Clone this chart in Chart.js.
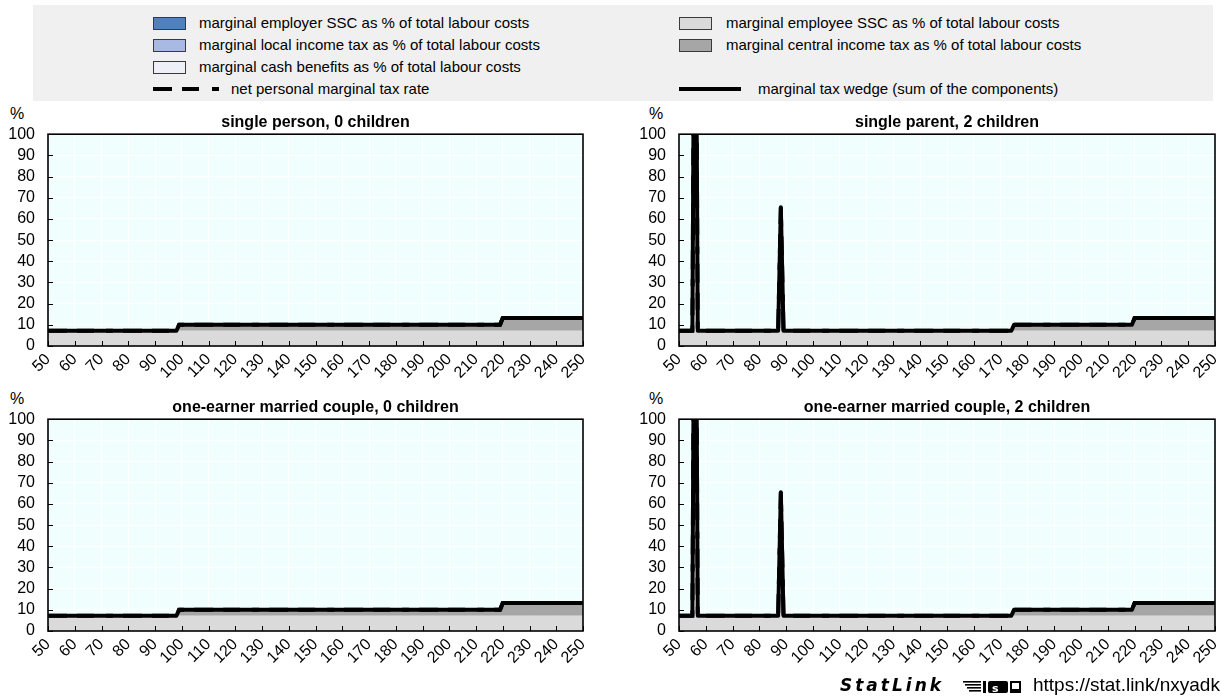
<!DOCTYPE html>
<html>
<head>
<meta charset="utf-8">
<script src="https://cdn.jsdelivr.net/npm/chart.js@4/dist/chart.umd.min.js"></script>
<style>
  body { margin:0; width:1221px; height:698px; overflow:hidden; background:#fff;
         font-family:"Liberation Sans", Arial, sans-serif; position:relative; color:#000; }
  #legendBox { position:absolute; left:33px; top:5px; width:1180px; height:96px; background:#f0f0f0; }
  .lab { position:absolute; font-size:15px; line-height:16px; white-space:nowrap; }
  .sw { position:absolute; width:33px; height:13px; border:1px solid #3a3a3a; box-sizing:border-box; }
  .bar { position:absolute; height:4px; background:#000; }
  .pct { position:absolute; font-size:16px; line-height:18px; }
  canvas { position:absolute; }
  #statlink { position:absolute; left:840px; top:674px; font-family:"DejaVu Sans", sans-serif;
              font-style:italic; font-weight:bold; font-size:17px; letter-spacing:3px; line-height:22px; }
  #url { position:absolute; left:1033px; top:674px; font-size:19px; line-height:22px; white-space:nowrap; }
  #slicon { position:absolute; left:963px; top:680px; }
</style>
</head>
<body>
<div id="legendBox"></div>

<!-- legend, left column -->
<div class="sw" style="left:153px;top:17px;background:#4f81bd"></div>
<div class="lab" style="left:199px;top:15px">marginal employer SSC as % of total labour costs</div>
<div class="sw" style="left:153px;top:39px;background:#a8bae4"></div>
<div class="lab" style="left:199px;top:37px">marginal local income tax as % of total labour costs</div>
<div class="sw" style="left:153px;top:61px;background:#eef0f8"></div>
<div class="lab" style="left:199px;top:59px">marginal cash benefits as % of total labour costs</div>
<div class="bar" style="left:153px;top:87px;width:19px"></div>
<div class="bar" style="left:182px;top:87px;width:17px"></div>
<div class="bar" style="left:212px;top:87px;width:7px"></div>
<div class="lab" style="left:231px;top:81px">net personal marginal tax rate</div>

<!-- legend, right column -->
<div class="sw" style="left:679px;top:17px;background:#dadada"></div>
<div class="lab" style="left:726px;top:15px">marginal employee SSC as % of total labour costs</div>
<div class="sw" style="left:679px;top:39px;background:#a6a6a6"></div>
<div class="lab" style="left:726px;top:37px">marginal central income tax as % of total labour costs</div>
<div class="bar" style="left:679px;top:87px;width:62px"></div>
<div class="lab" style="left:758px;top:81px">marginal tax wedge (sum of the components)</div>

<div class="pct" style="left:10px;top:105px">%</div>
<div class="pct" style="left:649px;top:105px">%</div>
<div class="pct" style="left:10px;top:390px">%</div>
<div class="pct" style="left:649px;top:390px">%</div>

<canvas id="cTL" width="600" height="285" style="left:0;top:105px"></canvas>
<canvas id="cTR" width="590" height="285" style="left:631px;top:105px"></canvas>
<canvas id="cBL" width="600" height="285" style="left:0;top:390px"></canvas>
<canvas id="cBR" width="590" height="285" style="left:631px;top:390px"></canvas>

<div id="statlink">StatLink</div>
<svg id="slicon" width="58" height="14" viewBox="0 0 58 14">
  <rect x="0" y="1" width="18" height="1.6" fill="#000"/>
  <rect x="2" y="4" width="16" height="1.6" fill="#000"/>
  <rect x="4" y="7" width="14" height="1.6" fill="#000"/>
  <rect x="6" y="10" width="12" height="1.6" fill="#000"/>
  <rect x="20" y="1" width="3" height="12" fill="#000"/>
  <rect x="25" y="1" width="20" height="12" rx="2" fill="#000"/>
  <text x="29" y="11.5" font-family="DejaVu Sans" font-weight="bold" font-size="11" fill="#fff">s</text>
  <rect x="47" y="1" width="11" height="12" fill="#000"/>
  <rect x="49" y="3" width="7" height="6" fill="#fff"/>
</svg>
<div id="url">https://stat.link/nxyadk</div>

<script>
// Gross wage levels (% of average wage) at which the marginal rates change
const wageSingle = [50, 98, 99, 219, 220, 250];
const employerSscSingle = [0, 0, 0, 0, 0, 0];
const employeeSscSingle = [7.2, 7.2, 7.2, 7.2, 7.2, 7.2];
const localTaxSingle = [0, 0, 0, 0, 0, 0];
const centralTaxSingle = [0, 0, 2.8, 2.8, 6.0, 6.0];
const cashBenefitsSingle = [0, 0, 0, 0, 0, 0];
const netRateSingle = [7.2, 7.2, 10.0, 10.0, 13.2, 13.2];
const wedgeSingle = [7.2, 7.2, 10.0, 10.0, 13.2, 13.2];

const wageParent = [50, 55, 56, 57, 87, 88, 89, 174, 175, 219, 220, 250];
const employerSscParent = [0, 0, 0, 0, 0, 0, 0, 0, 0, 0, 0, 0];
const employeeSscParent = [7.2, 7.2, 7.2, 7.2, 7.2, 7.2, 7.2, 7.2, 7.2, 7.2, 7.2, 7.2];
const localTaxParent = [0, 0, 0, 0, 0, 0, 0, 0, 0, 0, 0, 0];
const centralTaxParent = [0, 0, 0, 0, 0, 0, 0, 0, 2.8, 2.8, 6.0, 6.0];
const cashBenefitsParent = [0, 0, 242.8, 0, 0, 58.3, 0, 0, 0, 0, 0, 0];
const netRateParent = [7.2, 7.2, 250, 7.2, 7.2, 65.5, 7.2, 7.2, 10.0, 10.0, 13.2, 13.2];
const wedgeParent = [7.2, 7.2, 250, 7.2, 7.2, 65.5, 7.2, 7.2, 10.0, 10.0, 13.2, 13.2];

const wageCouple0 = [50, 98, 99, 219, 220, 250];
const employerSscCouple0 = [0, 0, 0, 0, 0, 0];
const employeeSscCouple0 = [7.2, 7.2, 7.2, 7.2, 7.2, 7.2];
const localTaxCouple0 = [0, 0, 0, 0, 0, 0];
const centralTaxCouple0 = [0, 0, 2.8, 2.8, 6.0, 6.0];
const cashBenefitsCouple0 = [0, 0, 0, 0, 0, 0];
const netRateCouple0 = [7.2, 7.2, 10.0, 10.0, 13.2, 13.2];
const wedgeCouple0 = [7.2, 7.2, 10.0, 10.0, 13.2, 13.2];

const wageCouple2 = [50, 55, 56, 57, 87, 88, 89, 174, 175, 219, 220, 250];
const employerSscCouple2 = [0, 0, 0, 0, 0, 0, 0, 0, 0, 0, 0, 0];
const employeeSscCouple2 = [7.2, 7.2, 7.2, 7.2, 7.2, 7.2, 7.2, 7.2, 7.2, 7.2, 7.2, 7.2];
const localTaxCouple2 = [0, 0, 0, 0, 0, 0, 0, 0, 0, 0, 0, 0];
const centralTaxCouple2 = [0, 0, 0, 0, 0, 0, 0, 0, 2.8, 2.8, 6.0, 6.0];
const cashBenefitsCouple2 = [0, 0, 242.8, 0, 0, 58.3, 0, 0, 0, 0, 0, 0];
const netRateCouple2 = [7.2, 7.2, 250, 7.2, 7.2, 65.5, 7.2, 7.2, 10.0, 10.0, 13.2, 13.2];
const wedgeCouple2 = [7.2, 7.2, 250, 7.2, 7.2, 65.5, 7.2, 7.2, 10.0, 10.0, 13.2, 13.2];

const panelTitles = [
  'single person, 0 children',
  'single parent, 2 children',
  'one-earner married couple, 0 children',
  'one-earner married couple, 2 children'
];
const xTickMin = 50, xTickMax = 250, xTickStep = 10;
const yTickMin = 0, yTickMax = 100, yTickStep = 10;

const FONT = '"Liberation Sans", Arial, sans-serif';

const pts = (xs, ys) => xs.map((x, i) => ({ x, y: ys[i] }));

// plot background, inward tick marks and the black frame
const framePlugin = {
  id: 'frame',
  beforeDraw(chart) {
    const { ctx, chartArea: a } = chart;
    ctx.save();
    ctx.fillStyle = '#f0fefe';
    ctx.fillRect(a.left, a.top, a.right - a.left, a.bottom - a.top);
    ctx.restore();
  },
  afterDraw(chart) {
    const { ctx, chartArea: a, scales: { x, y } } = chart;
    ctx.save();
    ctx.strokeStyle = '#000';
    ctx.lineWidth = 1;
    ctx.beginPath();
    x.ticks.forEach(t => {
      const px = Math.round(x.getPixelForValue(t.value)) + 0.5;
      ctx.moveTo(px, a.bottom);
      ctx.lineTo(px, a.bottom - 5);
    });
    y.ticks.forEach(t => {
      const py = Math.round(y.getPixelForValue(t.value)) + 0.5;
      ctx.moveTo(a.left, py);
      ctx.lineTo(a.left + 5, py);
    });
    ctx.stroke();
    ctx.lineWidth = 1.6;
    ctx.strokeRect(a.left, a.top, a.right - a.left, a.bottom - a.top);
    ctx.restore();
  }
};

function buildPanel(id, title, wage, employer, employee, local, central, cash, netRate, wedge, rightPad) {
  const area = (label, data, color, fill) => ({
    label, data: pts(wage, data), stack: 'components', order: 5,
    backgroundColor: color, borderWidth: 0, pointRadius: 0, fill, tension: 0
  });
  new Chart(document.getElementById(id), {
    type: 'line',
    data: {
      datasets: [
        area('marginal employer SSC as % of total labour costs', employer, '#4f81bd', 'origin'),
        area('marginal employee SSC as % of total labour costs', employee, '#dadada', '-1'),
        area('marginal local income tax as % of total labour costs', local, '#a8bae4', '-1'),
        area('marginal central income tax as % of total labour costs', central, '#a6a6a6', '-1'),
        area('marginal cash benefits as % of total labour costs', cash, '#eef0f8', '-1'),
        {
          label: 'net personal marginal tax rate', data: pts(wage, netRate), stack: 'net', order: 1,
          borderColor: '#000', borderWidth: 4, borderDash: [19, 10, 17, 12, 7, 10],
          pointRadius: 0, fill: false, tension: 0
        },
        {
          label: 'marginal tax wedge (sum of the components)', data: pts(wage, wedge), stack: 'wedge', order: 0,
          borderColor: '#000', borderWidth: 4, borderJoinStyle: 'round',
          pointRadius: 0, fill: false, tension: 0
        }
      ]
    },
    options: {
      responsive: false,
      animation: false,
      events: [],
      layout: { padding: { left: 0, right: rightPad, top: 0, bottom: 0 } },
      plugins: {
        legend: { display: false },
        tooltip: { enabled: false },
        title: {
          display: true, text: title, fullSize: false, color: '#000',
          font: { family: FONT, size: 16, weight: 'bold' },
          padding: { top: 8, bottom: 2 }
        }
      },
      scales: {
        x: {
          type: 'linear', min: xTickMin, max: xTickMax,
          ticks: {
            stepSize: xTickStep, autoSkip: false, minRotation: 45, maxRotation: 45,
            color: '#000', font: { family: FONT, size: 16 }, padding: 4
          },
          grid: { color: '#ffffff', lineWidth: 1, drawTicks: false },
          border: { display: false },
          afterFit(s) { s.height = 44; s.paddingLeft = 0; s.paddingRight = 0; }
        },
        y: {
          stacked: true, min: yTickMin, max: yTickMax,
          ticks: {
            stepSize: yTickStep, autoSkip: false, maxTicksLimit: 20, color: '#000',
            font: { family: FONT, size: 16, lineHeight: 1 }, padding: 13
          },
          grid: { color: '#ffffff', lineWidth: 1, drawTicks: false },
          border: { display: false },
          afterFit(s) { s.width = 48; s.paddingTop = 0; s.paddingBottom = 0; }
        }
      }
    },
    plugins: [framePlugin]
  });
}

buildPanel('cTL', panelTitles[0], wageSingle, employerSscSingle, employeeSscSingle, localTaxSingle,
           centralTaxSingle, cashBenefitsSingle, netRateSingle, wedgeSingle, 17);
buildPanel('cTR', panelTitles[1], wageParent, employerSscParent, employeeSscParent, localTaxParent,
           centralTaxParent, cashBenefitsParent, netRateParent, wedgeParent, 6);
buildPanel('cBL', panelTitles[2], wageCouple0, employerSscCouple0, employeeSscCouple0, localTaxCouple0,
           centralTaxCouple0, cashBenefitsCouple0, netRateCouple0, wedgeCouple0, 17);
buildPanel('cBR', panelTitles[3], wageCouple2, employerSscCouple2, employeeSscCouple2, localTaxCouple2,
           centralTaxCouple2, cashBenefitsCouple2, netRateCouple2, wedgeCouple2, 6);
</script>
</body>
</html>
